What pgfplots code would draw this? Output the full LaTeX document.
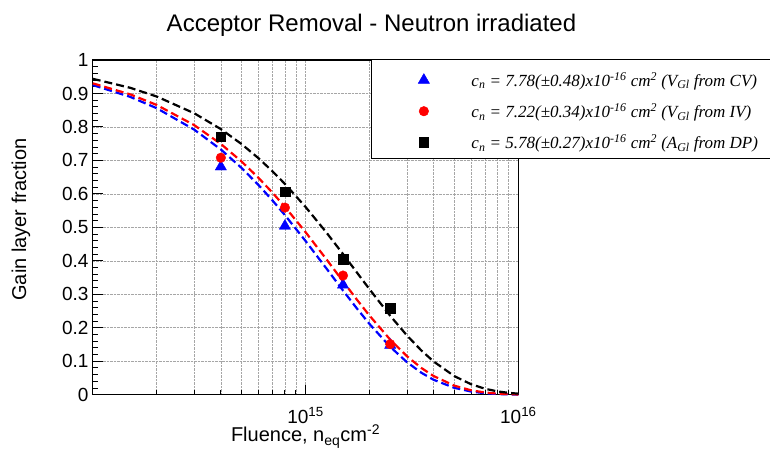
\documentclass[border=0pt]{standalone}
\usepackage{pgfplots}
\pgfplotsset{compat=1.18}
\usepackage{fontspec}
\setmainfont{Liberation Sans}
\newfontfamily\lserif{Liberation Serif}

\pgfplotstableread{
x        blue      red       black
1e14     0.92515   0.93034   0.94384
1.5e14   0.88985   0.89736   0.91695
2e14     0.85590   0.86554   0.89083
3e14     0.79184   0.80525   0.84080
4e14     0.73257   0.74916   0.79358
5e14     0.67773   0.69698   0.74901
6e14     0.62701   0.64843   0.70695
7e14     0.58007   0.60326   0.66724
8e14     0.53665   0.56124   0.62977
1e15     0.45932   0.48578   0.56102
1.25e15  0.37814   0.40555   0.48553
1.5e15   0.31130   0.33858   0.42021
1.75e15  0.25628   0.28266   0.36367
2e15     0.21098   0.23598   0.31475
2.5e15   0.14299   0.16447   0.23575
3e15     0.09691   0.11464   0.17657
3.5e15   0.06568   0.07990   0.13226
4e15     0.04451   0.05569   0.09906
5e15     0.02045   0.02705   0.05557
6e15     0.00939   0.01314   0.03118
7e15     0.00431   0.00638   0.01749
8e15     0.00198   0.00310   0.00981
9e15     0.00091   0.00151   0.00551
1e16     0.00042   0.00073   0.00309
}\fits

\pgfplotstableread{
x       y
4e14    0.681
8e14    0.504
1.5e15  0.328
2.5e15  0.148
}\cvdata
\pgfplotstableread{
x       y
4e14    0.708
8e14    0.559
1.5e15  0.356
2.5e15  0.151
}\ivdata
\pgfplotstableread{
x       y
4e14    0.771
8e14    0.607
1.5e15  0.405
2.5e15  0.258
}\dpdata

\begin{document}
\begin{tikzpicture}[x=1pt,y=1pt]
\path[use as bounding box] (0,0) rectangle (770,449);
\node[anchor=base, font=\fontsize{24}{28}\selectfont, inner sep=0pt] at (371.5,417.3) {Acceptor Removal - Neutron irradiated};
\begin{axis}[
  at={(92.7pt,54.3pt)}, anchor=south west,
  scale only axis, width=425.6pt, height=334.7pt,
  xmode=log, xmin=1e14, xmax=1e16, ymin=0, ymax=1,
  clip=false,
  xtick={1e15,1e16},
  xticklabels={10\textsuperscript{15},10\textsuperscript{16}},
  minor xtick={2e14,3e14,4e14,5e14,6e14,7e14,8e14,9e14,2e15,3e15,4e15,5e15,6e15,7e15,8e15,9e15},
  ytick={0,0.1,0.2,0.3,0.4,0.5,0.6,0.7,0.8,0.9,1},
  yticklabels={0,0.1,0.2,0.3,0.4,0.5,0.6,0.7,0.8,0.9,1},
  minor y tick num=4,
  tick align=inside, tick pos=left,
  major tick length=10pt, minor tick length=5pt,
  every tick/.style={black, line width=0.9pt},
  axis line style={line width=1.1pt},
  xmajorgrids, xminorgrids, ymajorgrids,
  major grid style={densely dotted, gray!70, line width=0.6pt},
  minor grid style={densely dotted, gray!70, line width=0.6pt},
  ticklabel style={font=\fontsize{19}{22}\selectfont},
  xticklabel style={anchor=base, yshift=-28.3pt, inner sep=0pt},
  yticklabel style={anchor=east, inner sep=0pt, xshift=-4pt},
  xlabel={Fluence, n\textsubscript{eq}cm\textsuperscript{-2}},
  ylabel={Gain layer fraction},
  xlabel style={font=\fontsize{20}{24}\selectfont, at={(axis description cs:0.5,-0.1413)}, anchor=base, inner sep=0pt},
  ylabel style={font=\fontsize{20}{24}\selectfont, at={(axis description cs:-0.1567,0.5235)}, anchor=base, inner sep=0pt},
  legend style={draw=none, fill=none, inner sep=0pt, at={(rel axis cs:0.7643,0.964)}, anchor=north west,
    font=\lserif\itshape\fontsize{17}{20}\selectfont, row sep=15.5pt,
    /tikz/every odd column/.append style={column sep=42pt},
    nodes={inner sep=0pt}},
  legend cell align=left,
]
\draw[fill=white, line width=0.8pt] (rel axis cs:0.6539,1.003) rectangle (rel axis cs:1.592,0.7072);

\addplot[blue, dash pattern=on 8pt off 4pt, line width=2.2pt, forget plot] table[x=x, y=blue] {\fits};
\addplot[red, dash pattern=on 8pt off 4pt, line width=2.2pt, forget plot] table[x=x, y=red] {\fits};
\addplot[black, dash pattern=on 8pt off 4pt, line width=2.2pt, forget plot] table[x=x, y=black] {\fits};

\addplot[only marks, mark=triangle*, mark size=6.5pt, color=blue] table[x=x, y=y] {\cvdata};
\addlegendentry{c\textsubscript{n} = 7.78(±0.48)x10\textsuperscript{-16} cm\textsuperscript{2} (V\textsubscript{Gl} from CV)}
\addplot[only marks, mark=*, mark size=4.8pt, color=red] table[x=x, y=y] {\ivdata};
\addlegendentry{c\textsubscript{n} = 7.22(±0.34)x10\textsuperscript{-16} cm\textsuperscript{2} (V\textsubscript{Gl} from IV)}
\addplot[only marks, mark=square*, mark size=4.8pt, color=black] table[x=x, y=y] {\dpdata};
\addlegendentry{c\textsubscript{n} = 5.78(±0.27)x10\textsuperscript{-16} cm\textsuperscript{2} (A\textsubscript{Gl} from DP)}
\end{axis}
\end{tikzpicture}
\end{document}
